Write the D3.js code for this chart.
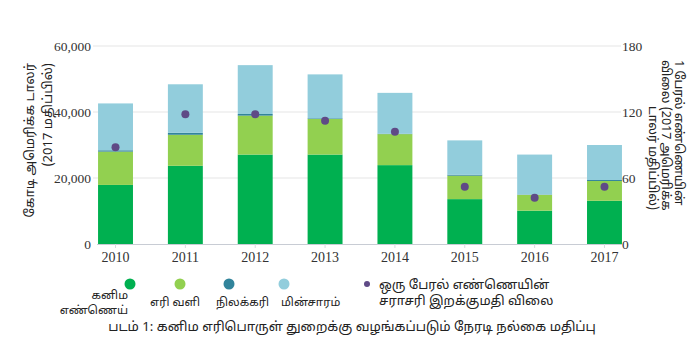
<!DOCTYPE html>
<html><head><meta charset="utf-8">
<script src="https://cdn.jsdelivr.net/npm/d3@7"></script>
<style>
body{margin:0;background:#fff;}
svg{display:block;}
.num{font-family:"Liberation Serif","Times New Roman",serif;font-size:13.5px;fill:#333;}
.ta{font-family:"Noto Sans Tamil","Lohit Tamil","Noto Sans","Liberation Serif",serif;fill:#222;}
</style></head>
<body>
<svg id="c" width="700" height="345"></svg>
<script>
const years = ["2010","2011","2012","2013","2014","2015","2016","2017"];
const oil = [17900, 23700, 27100, 27100, 23900, 13600, 10100, 13100];
const gas = [10100, 9400, 11800, 10800, 9400, 7100, 4800, 6000];
const coal = [400, 600, 500, 200, 100, 300, 100, 300];
const electricity = [14200, 14700, 14800, 13300, 12400, 10400, 12100, 10600];
const oilPrice = [88, 118, 118, 112, 102, 52, 42, 52];
const leftTicks = [0, 20000, 40000, 60000];
const rightTicks = [0, 60, 120, 180];
const seriesNames = ["கனிம\nஎண்ணெய்", "எரி வளி", "நிலக்கரி", "மின்சாரம்"];
const priceName = ["ஒரு பேரல் எண்ணெயின்", "சராசரி இறக்குமதி விலை"];
const leftTitle = ["கோடி அமெரிக்க டாலர்", "(2017 மதிப்பில்)"];
const rightTitle = ["1 பேரல் எண்ணெயின்", "விலை (2017 அமெரிக்க", "டாலர் மதிப்பில்)"];
const caption = "படம் 1: கனிம எரிபொருள் துறைக்கு வழங்கப்படும் நேரடி நல்கை மதிப்பு";

const colors = ["#00b050", "#92d050", "#31849b", "#92cddc"];
const purple = "#5f4a86";

const svg = d3.select("#c");
svg.append("rect").attr("width",700).attr("height",345).attr("fill","#fff");

const x = d3.scaleBand().domain(years).range([97, 623]).paddingInner(0.5).paddingOuter(0.015);
const y = d3.scaleLinear().domain([0, 60000]).range([244, 46]);
const y2 = d3.scaleLinear().domain([0, 180]).range([244, 46]);

// gridlines
svg.append("g").selectAll("line").data(leftTicks.filter(d=>d>0)).join("line")
  .attr("x1", 93).attr("x2", 621).attr("y1", d=>y(d)).attr("y2", d=>y(d))
  .attr("stroke", "#e6e6e6").attr("stroke-width", 1.2);

// left axis labels
const la = svg.append("g").attr("transform","translate(91,0)")
  .call(d3.axisLeft(y).tickValues(leftTicks).tickSize(0).tickPadding(0).tickFormat(d3.format(",")));
la.select(".domain").remove();
la.selectAll("text").attr("class","num").attr("font-family",null).attr("font-size",null).attr("fill",null);

// right axis labels
const ra = svg.append("g").attr("transform","translate(622,0)")
  .call(d3.axisRight(y2).tickValues(rightTicks).tickSize(0).tickPadding(0));
ra.select(".domain").remove();
ra.selectAll("text").attr("class","num").attr("font-family",null).attr("font-size",null).attr("fill",null);

// stacked bars
const rows = years.map((yr,i)=>({year:yr, oil:oil[i], gas:gas[i], coal:coal[i], electricity:electricity[i]}));
const stack = d3.stack().keys(["oil","gas","coal","electricity"])(rows);
svg.append("g").selectAll("g").data(stack).join("g").attr("fill",(d,i)=>colors[i])
  .selectAll("rect").data(d=>d).join("rect")
  .attr("x", d=>x(d.data.year)).attr("width", x.bandwidth())
  .attr("y", d=>y(d[1])).attr("height", d=>y(d[0])-y(d[1]));

// baseline + bottom axis
const xa = svg.append("g").attr("transform","translate(0,244)")
  .call(d3.axisBottom(x).tickSize(4).tickPadding(4));
xa.select(".domain").attr("d","M97,0.5H622").attr("stroke","#c8ccd4");
xa.selectAll(".tick line").attr("stroke","#d8dbe0");
xa.selectAll("text").attr("class","num").attr("font-family",null).attr("font-size",null).attr("fill",null).style("font-size","14px");

// price dots
svg.append("g").selectAll("circle").data(oilPrice).join("circle")
  .attr("cx",(d,i)=>x(years[i])+x.bandwidth()/2).attr("cy", d=>y2(d)).attr("r",4)
  .attr("fill", purple);

// left title
const lt = svg.append("text").attr("class","ta").attr("transform","translate(34,63) rotate(-90)")
  .attr("text-anchor","end").style("font-size","13px");
lt.selectAll("tspan").data(leftTitle).join("tspan").attr("x",0).attr("dy",(d,i)=>i?18:0).text(d=>d);

// right title
const rt = svg.append("text").attr("class","ta").attr("transform","translate(675,60) rotate(90)")
  .style("font-size","12.5px");
rt.append("tspan").attr("x",0).attr("dy",0).text(rightTitle[0]);
rt.append("tspan").attr("x",0).attr("dy",13).text(rightTitle[1]);
rt.append("tspan").attr("x",150).attr("dy",13).attr("text-anchor","end").text(rightTitle[2]);

// legend
const legX = [130, 180, 229, 284];
svg.append("g").selectAll("circle").data(colors).join("circle")
  .attr("cx",(d,i)=>legX[i]).attr("cy",284).attr("r",5.5).attr("fill",d=>d);
const lblX = [128, 150, 216, 281];
seriesNames.forEach((name,i)=>{
  const lines = name.split("\n");
  lines.forEach((ln,j)=>{
    svg.append("text").attr("class","ta").style("font-size","11.5px")
      .attr("text-anchor", lines.length>1 ? "end" : "start")
      .attr("x", lblX[i]).attr("y", lines.length>1 ? 299+j*15 : 306).text(ln);
  });
});
svg.append("circle").attr("cx",367).attr("cy",284).attr("r",3).attr("fill",purple);
priceName.forEach((ln,i)=>{
  svg.append("text").attr("class","ta").style("font-size","13px")
    .attr("x",379).attr("y",289+i*16).text(ln);
});

// caption
svg.append("text").attr("class","ta").attr("x",352).attr("y",331).attr("text-anchor","middle")
  .style("font-size","13.2px").text(caption);
</script>
</body></html>
